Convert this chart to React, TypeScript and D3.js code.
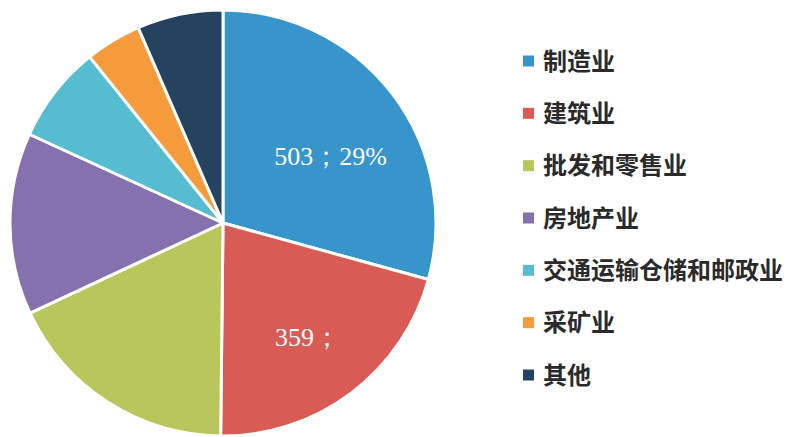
import React from "react";
import * as d3 from "d3";

const categories = ["制造业", "建筑业", "批发和零售业", "房地产业", "交通运输仓储和邮政业", "采矿业", "其他"];
const values = [503, 359, 307, 237, 127, 73, 112];
const colors = ["#3795CC", "#D95B55", "#B8C65B", "#8471AE", "#56BDD0", "#F59B3C", "#25435F"];
const labels = ["503；29%", "359；", "", "", "", "", ""];

const W = 787;
const H = 437;
const cx = 223;
const cy = 223;
const R = 213;

export default function App() {
  const pie = d3.pie<number>().sort(null).value((d) => d)(values);
  const arc = d3.arc<d3.PieArcDatum<number>>().innerRadius(0).outerRadius(R);
  const labelArc = d3.arc<d3.PieArcDatum<number>>().innerRadius(R * 0.6).outerRadius(R * 0.6);
  const legendY = d3.scaleLinear().domain([0, 6]).range([61, 375]);
  const offsets: [number, number][] = [[6, 10], [-25, 12]];

  return (
    <div style={{ position: "fixed", left: 0, top: 0 }}>
      <svg width={W} height={H} style={{ display: "block", background: "#fff" }}>
        <g transform={`translate(${cx},${cy})`}>
          {pie.map((p, i) => (
            <path key={i} d={arc(p) || ""} fill={colors[i]} stroke="#fff" strokeWidth={3} strokeLinejoin="round" />
          ))}
          {pie.map((p, i) => {
            if (!labels[i]) return null;
            const [x, y] = labelArc.centroid(p);
            const [ox, oy] = offsets[i] || [0, 0];
            return (
              <text
                key={"l" + i}
                x={x + ox}
                y={y + oy}
                dy="0.35em"
                textAnchor={i === 1 ? "start" : "middle"}
                fill="#fff"
                fontFamily="'Liberation Serif', 'DejaVu Serif', serif"
                fontSize={26}
              >
                {labels[i]}
              </text>
            );
          })}
        </g>
        <g>
          {categories.map((c, i) => (
            <g key={c} transform={`translate(523,${legendY(i)})`}>
              <rect x={0} y={-5.5} width={11} height={11} fill={colors[i]} />
              <text
                x={20}
                y={0}
                dy="0.36em"
                fill="#2a2a2a"
                fontFamily="'Noto Sans CJK SC', sans-serif"
                fontWeight="bold"
                fontSize={24}
              >
                {c}
              </text>
            </g>
          ))}
        </g>
      </svg>
    </div>
  );
}
